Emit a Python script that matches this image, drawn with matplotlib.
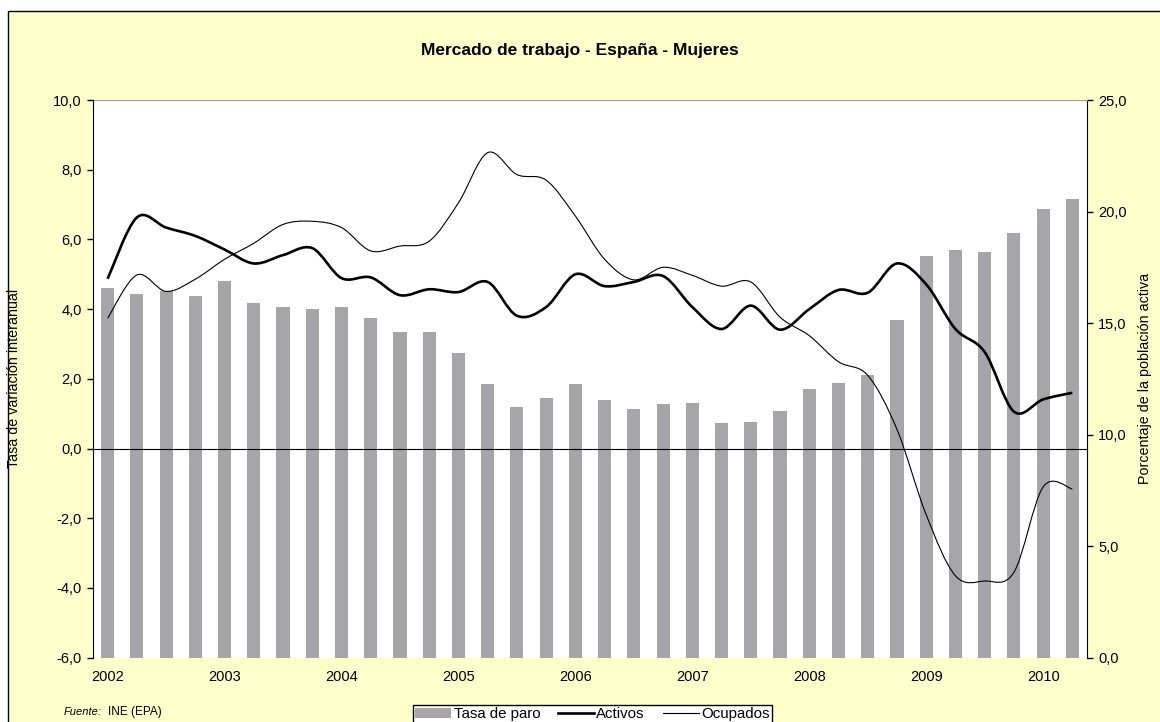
import numpy as np
import matplotlib
matplotlib.use('Agg')
from matplotlib import pyplot as plt
from matplotlib.path import Path
from matplotlib.patches import PathPatch, Rectangle, Patch
from matplotlib.lines import Line2D

plt.rcParams['font.family'] = ['Liberation Sans', 'DejaVu Sans']

# trimestres 2002T1 .. 2010T2
years = ['2002', '2003', '2004', '2005', '2006', '2007', '2008', '2009', '2010']

# tasa de paro (% de la poblacion activa), eje derecho
paro = [16.56, 16.29, 16.44, 16.20, 16.87, 15.89, 15.71, 15.62, 15.71, 15.22,
        14.60, 14.60, 13.66, 12.28, 11.25, 11.65, 12.28, 11.56, 11.16, 11.38,
        11.43, 10.54, 10.58, 11.07, 12.05, 12.32, 12.68, 15.15, 18.00, 18.26,
        18.17, 19.02, 20.13, 20.54]

# tasa de variacion interanual, eje izquierdo
activos = [4.87, 6.63, 6.34, 6.10, 5.71, 5.31, 5.55, 5.75, 4.89, 4.91,
           4.40, 4.57, 4.49, 4.78, 3.81, 4.06, 5.00, 4.66, 4.78, 4.95,
           4.06, 3.43, 4.10, 3.41, 4.00, 4.55, 4.47, 5.31, 4.71, 3.43,
           2.77, 1.06, 1.41, 1.60]

ocupados = [3.74, 4.98, 4.51, 4.86, 5.43, 5.89, 6.43, 6.52, 6.34, 5.67,
            5.81, 5.95, 7.05, 8.49, 7.86, 7.70, 6.67, 5.43, 4.84, 5.20,
            4.97, 4.66, 4.78, 3.77, 3.24, 2.49, 2.10, 0.55, -1.90, -3.65,
            -3.80, -3.55, -1.10, -1.16]

n = len(paro)
x = np.arange(n)


def smooth_path(xs, ys):
    # curva suavizada tipo Excel (bezier cubica por tramos)
    pts = np.column_stack([xs, ys]).astype(float)
    verts = [pts[0]]
    codes = [Path.MOVETO]
    for i in range(len(pts) - 1):
        p0 = pts[i - 1] if i > 0 else pts[i]
        p1 = pts[i]
        p2 = pts[i + 1]
        p3 = pts[i + 2] if i + 2 < len(pts) else pts[i + 1]
        c1 = p1 + (p2 - p0) / 6.0
        c2 = p2 - (p3 - p1) / 6.0
        verts += [c1, c2, p2]
        codes += [Path.CURVE4] * 3
    return Path(verts, codes)


fig = plt.figure(figsize=(11.6, 7.22), dpi=100, facecolor='white')
fig.patches.append(Rectangle((8 / 1160, -0.05), 1.2, 1 - 11 / 722 + 0.05,
                             transform=fig.transFigure, facecolor='#FFFFCC',
                             edgecolor='black', linewidth=1.0, zorder=-10))

left, right = 93 / 1160, 1087 / 1160
top, bottom = 1 - 100 / 722, 1 - 657.7 / 722
ax = fig.add_axes([left, bottom, right - left, top - bottom])
ax.set_facecolor('white')

# barras en el eje de la derecha
ax.bar(x, paro, width=0.45, color='#A6A6AA', zorder=2)
ax.set_ylim(0, 25)
ax.set_xlim(-0.5, n - 0.5)

# lineas en el eje de la izquierda
ax2 = ax.twinx()

ax.yaxis.tick_right()
ax.set_yticks(np.arange(0, 26, 5))
ax.set_yticklabels([('%.1f' % v).replace('.', ',') for v in np.arange(0, 26, 5)])
ax.tick_params(axis='y', direction='out', length=4, width=1, pad=4, labelsize=10.5, colors='black')
for s in ['left', 'bottom']:
    ax.spines[s].set_visible(False)
ax.spines['top'].set_color('#A0A0A0')
ax.spines['right'].set_color('black')

ax2.yaxis.tick_left()
ax2.set_ylim(-6, 10)
ax2.set_yticks(np.arange(-6, 11, 2))
ax2.set_yticklabels([('%.1f' % v).replace('.', ',') for v in np.arange(-6, 11, 2)])
ax2.tick_params(axis='y', direction='out', length=4, width=1, pad=4, labelsize=10.5, colors='black')
ax2.add_patch(PathPatch(smooth_path(x, ocupados), facecolor='none', edgecolor='black',
                        linewidth=0.8, zorder=3))
ax2.add_patch(PathPatch(smooth_path(x, activos), facecolor='none', edgecolor='black',
                        linewidth=1.9, zorder=4))
for s in ['top', 'right']:
    ax2.spines[s].set_visible(False)
ax2.spines['left'].set_color('black')
ax2.spines['bottom'].set_position(('data', 0))
ax2.spines['bottom'].set_color('black')

# marcas en la linea del cero (cada 4 trimestres) y etiquetas de los anos
ax2.set_xticks(np.arange(3.5, n - 0.5, 4))
ax2.set_xticks(np.arange(0, n, 4), minor=True)
ax2.set_xticklabels([], minor=False)
ax2.set_xticklabels(years, minor=True)
ax2.tick_params(axis='x', which='major', direction='out', length=4, width=1,
                labelbottom=False)
ax2.tick_params(axis='x', which='minor', bottom=False, labelbottom=False)
ax.tick_params(axis='x', which='major', bottom=False, labelbottom=False)
ax.tick_params(axis='x', which='minor', length=0, pad=9, labelsize=10.5, labelbottom=True)

fig.text(0.5, 1 - 50 / 722, 'Mercado de trabajo - España - Mujeres', ha='center', va='center',
         fontsize=12.5, fontweight='bold')
fig.text(14 / 1160, (top + bottom) / 2, 'Tasa de variación interanual', rotation=90,
         ha='center', va='center', fontsize=10.3)
fig.text(1145 / 1160, (top + bottom) / 2, 'Porcentaje de la población activa', rotation=90,
         ha='center', va='center', fontsize=10.3)

fig.text(64 / 1160, 1 - 712 / 722, 'Fuente:', fontsize=8, style='italic', va='center')
fig.text(108 / 1160, 1 - 712 / 722, 'INE (EPA)', fontsize=8.5, va='center')

handles = [Patch(facecolor='#A6A6AA', edgecolor='none'),
           Line2D([], [], color='black', linewidth=1.9),
           Line2D([], [], color='black', linewidth=0.8)]
leg = fig.legend(handles, ['Tasa de paro', 'Activos', 'Ocupados'], loc='upper left',
                 bbox_to_anchor=(413 / 1160, 1 - 705 / 722), ncol=3, fontsize=10.8,
                 frameon=True, fancybox=False, edgecolor='black', framealpha=1,
                 facecolor='white', handlelength=2.4, handletextpad=0.15,
                 columnspacing=1.2, borderpad=0.15, borderaxespad=0)
leg.get_frame().set_linewidth(1.0)

fig.savefig('out.png', dpi=100, facecolor=fig.get_facecolor())
